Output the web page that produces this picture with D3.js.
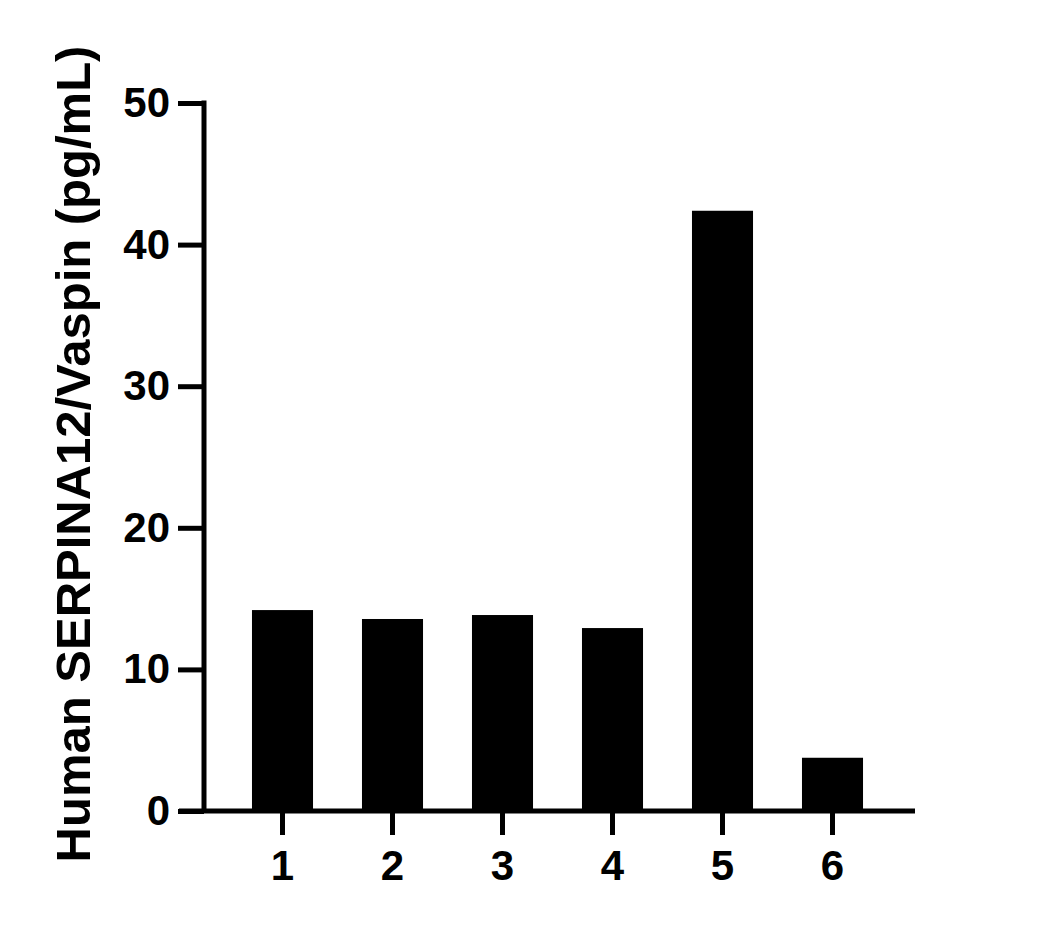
<!DOCTYPE html>
<html><head><meta charset="utf-8">
<script src="https://cdn.jsdelivr.net/npm/d3@7"></script>
<style>body{margin:0;background:#fff}</style>
</head><body>
<svg id="c" width="1046" height="928"></svg>
<script>
const categories = ["1","2","3","4","5","6"];
const values = [14.19, 13.56, 13.84, 12.92, 42.39, 3.76];
const yTicks = [0,10,20,30,40,50];
const yLabel = "Human SERPINA12/Vaspin (pg/mL)";

const svg = d3.select("#c");
const font = "'Liberation Sans', Arial, sans-serif";
const y = d3.scaleLinear().domain([0,50]).range([811,103]);
const x = d3.scaleBand().domain(categories).range([227.5,887.5]).paddingInner(0.445).paddingOuter(0.2225);
const axisX0 = 179, axisX1 = 915, yAxisX = 204;

svg.append("g").selectAll("rect").data(values).join("rect")
  .attr("x",(d,i)=>x(categories[i]))
  .attr("width",x.bandwidth())
  .attr("y",d=>y(d))
  .attr("height",d=>y(0)-y(d))
  .attr("fill","#000");

// y axis
const ya = svg.append("g").attr("transform",`translate(${yAxisX},0)`)
  .call(d3.axisLeft(y).tickValues(yTicks).tickSize(26).tickPadding(8).tickSizeOuter(0));
ya.select(".domain").remove();
ya.append("line").attr("x1",0).attr("x2",0).attr("y1",y(50)-2.5).attr("y2",y(0)).attr("stroke","#000").attr("stroke-width",5);
ya.selectAll(".tick line").attr("stroke","#000").attr("stroke-width",5).attr("x1",0);
ya.selectAll(".tick text").attr("font-family",font).attr("font-weight","bold").attr("font-size",42).attr("fill","#000");

// x axis
const xa = svg.append("g").attr("transform",`translate(0,${y(0)})`)
  .call(d3.axisBottom(x).tickSize(24).tickPadding(15).tickSizeOuter(0));
xa.select(".domain").remove();
xa.append("line").attr("x1",axisX0).attr("x2",axisX1).attr("y1",0).attr("y2",0).attr("stroke","#000").attr("stroke-width",5);
xa.selectAll(".tick line").attr("stroke","#000").attr("stroke-width",5);
xa.selectAll(".tick text").attr("font-family",font).attr("font-weight","bold").attr("font-size",42).attr("fill","#000");

svg.append("text")
  .attr("transform",`translate(90,454) rotate(-90)`)
  .attr("text-anchor","middle")
  .attr("font-family",font).attr("font-weight","bold").attr("font-size",49)
  .attr("fill","#000")
  .text(yLabel);
</script>
</body></html>
